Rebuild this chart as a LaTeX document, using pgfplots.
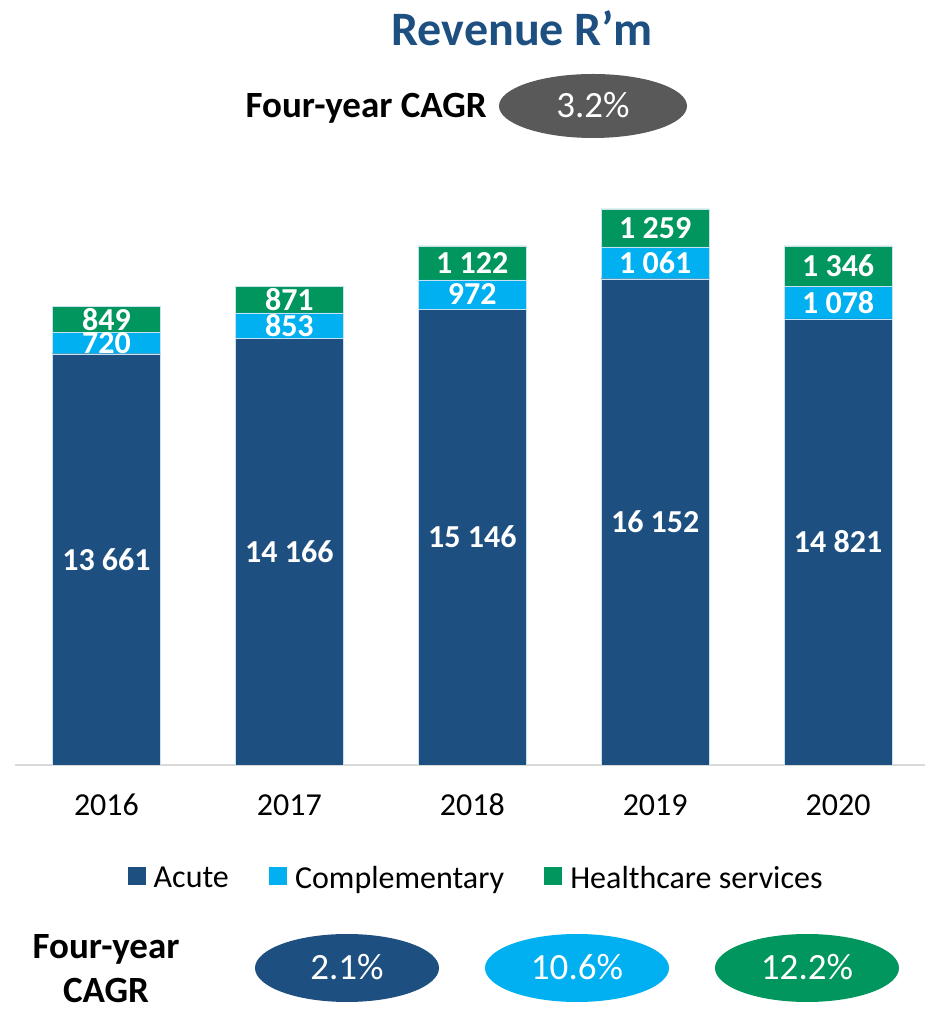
\documentclass[border=0pt]{standalone}
\usepackage{fontspec}
\setmainfont{Carlito}
\usepackage{pgfplots}
\pgfplotsset{compat=1.18}
\definecolor{acute}{RGB}{29,79,128}
\definecolor{comp}{RGB}{0,176,240}
\definecolor{health}{RGB}{0,150,94}
\definecolor{cagr}{RGB}{89,89,89}
\definecolor{axisgray}{RGB}{217,217,217}
\definecolor{edge}{RGB}{200,225,240}
\pgfplotsset{
  geom/.style={
    at={(15pt,244pt)}, anchor=south west,
    scale only axis, width=910pt, height=572pt,
    xmin=-0.5, xmax=4.475, ymin=0, ymax=19000,
  }
}
\begin{document}
\begin{tikzpicture}[x=1pt,y=1pt]
\useasboundingbox (0,0) rectangle (935,1009);
\begin{axis}[
  geom,
  ybar stacked, bar width=108pt,
  axis x line*=bottom, axis y line=none,
  x axis line style={axisgray, line width=1.5pt},
  xtick={0,...,4}, xticklabels={2016,2017,2018,2019,2020},
  xtick style={draw=none}, ytick=\empty,
  xticklabel style={anchor=base, yshift=-51pt, inner sep=0pt, font=\fontsize{32}{38}\selectfont, text=black},
  legend columns=3,
  legend style={draw=none, fill=none, at={(rel axis cs:0.5066,-0.1976)}, anchor=center, font=\fontsize{32}{38}\selectfont, /tikz/every even column/.append style={column sep=38pt}},
  legend image code/.code={\fill[#1,draw=none] (0pt,-6.5pt) rectangle (18pt,11.5pt); \path (24pt,0pt);},
]
\addplot[fill=acute, draw=edge, line width=0.4pt] coordinates {(0,13661) (1,14166) (2,15146) (3,16152) (4,14821)};
\addplot[fill=comp, draw=edge, line width=0.4pt] coordinates {(0,720) (1,853) (2,972) (3,1061) (4,1078)};
\addplot[fill=health, draw=edge, line width=0.4pt] coordinates {(0,849) (1,871) (2,1122) (3,1259) (4,1346)};
\legend{Acute, Complementary, Healthcare services}
\end{axis}
% label overlay: positions are the middles of the stacked segments
\begin{axis}[
  geom, axis lines=none, clip=false,
  nodes near coords,
  point meta=explicit symbolic,
  every node near coord/.append style={anchor=center, inner sep=0pt, text=white, font=\bfseries\fontsize{32}{38}\selectfont},
]
\addplot[draw=none] coordinates {(0,6830.5) [13 661] (1,7083) [14 166] (2,7573) [15 146] (3,8076) [16 152] (4,7410.5) [14 821]};
\addplot[draw=none] coordinates {(0,14021) [720] (1,14592.5) [853] (2,15632) [972] (3,16682.5) [1 061] (4,15360) [1 078]};
\addplot[draw=none] coordinates {(0,14805.5) [849] (1,15454.5) [871] (2,16679) [1 122] (3,17842.5) [1 259] (4,16572) [1 346]};
\end{axis}
% title
\node[anchor=base, inner sep=0pt, text=acute, font=\bfseries\fontsize{48}{56}\selectfont] at (522,963) {Revenue R’m};
% top CAGR
\node[anchor=base east, inner sep=0pt, font=\bfseries\fontsize{37}{44}\selectfont] at (487,891) {Four-year CAGR};
\fill[cagr] (593,903) ellipse (94 and 32);
\node[anchor=base, inner sep=0pt, text=white, font=\fontsize{37}{44}\selectfont] at (593,891) {3.2\%};
% bottom CAGR
\node[anchor=base, inner sep=0pt, font=\bfseries\fontsize{37}{44}\selectfont] at (106,50) {Four-year};
\node[anchor=base, inner sep=0pt, font=\bfseries\fontsize{37}{44}\selectfont] at (106,6) {CAGR};
\fill[acute] (347,41) ellipse (92 and 34);
\fill[comp] (577,41) ellipse (92 and 34);
\fill[health] (807,41) ellipse (92 and 34);
\node[anchor=base, inner sep=0pt, text=white, font=\fontsize{37}{44}\selectfont] at (347,29) {2.1\%};
\node[anchor=base, inner sep=0pt, text=white, font=\fontsize{37}{44}\selectfont] at (577,29) {10.6\%};
\node[anchor=base, inner sep=0pt, text=white, font=\fontsize{37}{44}\selectfont] at (807,29) {12.2\%};
\end{tikzpicture}
\end{document}
